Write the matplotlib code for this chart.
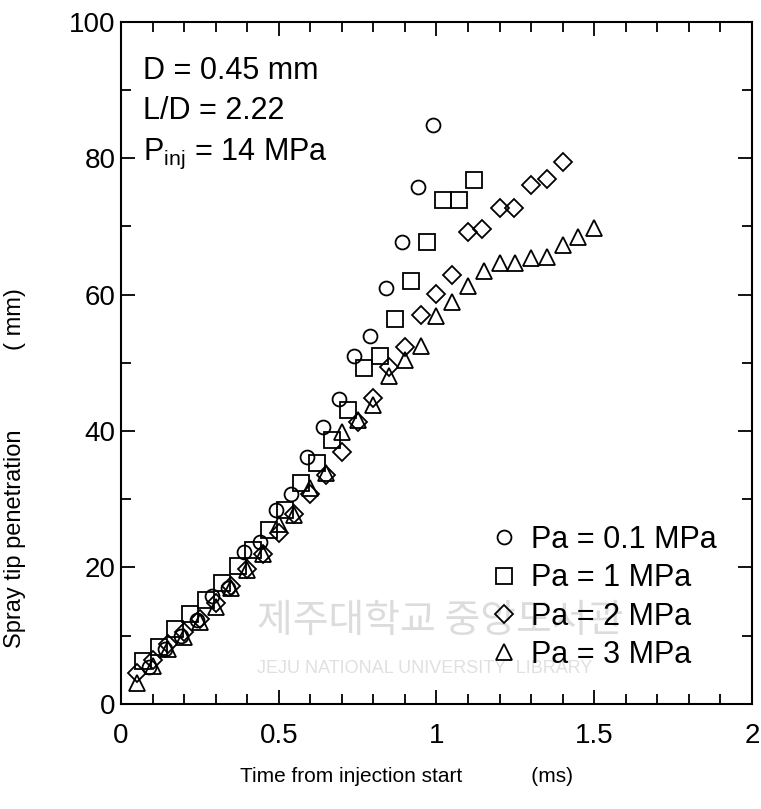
import matplotlib
matplotlib.use('Agg')
import matplotlib.pyplot as plt
from matplotlib.ticker import MultipleLocator

# Pa = 0.1 MPa
t_01 = [0.09, 0.14, 0.19, 0.24, 0.29, 0.34, 0.39, 0.44, 0.49, 0.54,
        0.59, 0.64, 0.69, 0.74, 0.79, 0.84, 0.89, 0.94, 0.99]
s_01 = [5.4, 8.0, 10.0, 12.3, 15.8, 17.0, 22.2, 23.8, 28.4, 30.7,
        36.2, 40.6, 44.7, 51.0, 54.0, 61.0, 67.7, 75.8, 84.9]

# Pa = 1 MPa
t_1 = [0.07, 0.12, 0.17, 0.22, 0.27, 0.32, 0.37, 0.42, 0.47, 0.52, 0.57,
       0.62, 0.67, 0.72, 0.77, 0.82, 0.87, 0.92, 0.97, 1.02, 1.07, 1.12]
s_1 = [6.3, 8.4, 10.9, 13.2, 15.2, 17.7, 20.2, 22.6, 25.5, 28.4, 32.4,
       35.3, 38.7, 43.1, 49.3, 51.0, 56.5, 62.0, 67.7, 73.9, 73.9, 76.8]

# Pa = 2 MPa
t_2 = [0.05, 0.10, 0.15, 0.20, 0.25, 0.30, 0.35, 0.40, 0.45, 0.50,
       0.55, 0.60, 0.65, 0.70, 0.75, 0.80, 0.85, 0.90, 0.95, 1.00,
       1.05, 1.10, 1.145, 1.20, 1.245, 1.30, 1.35, 1.40]
s_2 = [4.5, 6.5, 8.8, 10.5, 12.5, 14.8, 17.3, 19.8, 22.0, 25.0,
       27.8, 30.8, 33.5, 36.9, 41.3, 44.9, 49.4, 52.3, 57.0, 60.1,
       62.9, 69.2, 69.6, 72.7, 72.7, 76.1, 77.0, 79.5]

# Pa = 3 MPa
t_3 = [0.05, 0.10, 0.15, 0.20, 0.25, 0.30, 0.35, 0.40, 0.45, 0.50,
       0.55, 0.60, 0.65, 0.70, 0.75, 0.80, 0.85, 0.90, 0.95, 1.00,
       1.05, 1.10, 1.15, 1.20, 1.25, 1.30, 1.35, 1.40, 1.45, 1.50]
s_3 = [3.0, 5.5, 8.0, 9.8, 12.0, 14.2, 17.0, 19.6, 22.0, 26.3,
       27.7, 31.7, 33.9, 39.9, 41.6, 43.8, 48.1, 50.4, 52.5, 56.9,
       58.9, 61.3, 63.5, 64.7, 64.7, 65.4, 65.5, 67.3, 68.5, 69.8]

labels = ['Pa = 0.1 MPa', 'Pa = 1 MPa', 'Pa = 2 MPa', 'Pa = 3 MPa']
markers = ['o', 's', 'D', '^']

plt.rcParams['font.family'] = ['Liberation Sans', 'DejaVu Sans']

fig = plt.figure(figsize=(7.61, 8.09), dpi=100)
ax = fig.add_axes([0.159, 0.130, 0.829, 0.843])

series = [(t_01, s_01), (t_1, s_1), (t_2, s_2), (t_3, s_3)]
sizes = [10, 11, 9, 11]
for (t, s), m, lab, ms in zip(series, markers, labels, sizes):
    ax.plot(t, s, linestyle='none', marker=m, markersize=ms,
            markerfacecolor='none', markeredgecolor='black',
            markeredgewidth=1.3, label=lab)

ax.set_xlim(0, 2)
ax.set_ylim(0, 100)
ax.xaxis.set_major_locator(MultipleLocator(0.5))
ax.xaxis.set_minor_locator(MultipleLocator(0.1))
ax.yaxis.set_major_locator(MultipleLocator(20))
ax.yaxis.set_minor_locator(MultipleLocator(10))
ax.xaxis.set_major_formatter(plt.FuncFormatter(lambda v, p: '%g' % v))
ax.yaxis.set_major_formatter(plt.FuncFormatter(lambda v, p: '%g' % v))
ax.tick_params(which='both', direction='in', top=True, right=True, width=1.3)
ax.tick_params(which='major', length=10, labelsize=20)
ax.tick_params(which='minor', length=7)
ax.tick_params(axis='x', pad=14)
ax.tick_params(axis='y', pad=4)
for sp in ax.spines.values():
    sp.set_linewidth(1.5)

ax.set_xlabel('Time from injection start            (ms)', fontsize=15)
ax.xaxis.set_label_coords(0.452, -0.092)
ax.set_ylabel('Spray tip penetration            ( mm)', fontsize=17)
ax.yaxis.set_label_coords(-0.150, 0.346)

ax.text(0.035, 0.95, 'D = 0.45 mm\nL/D = 2.22\n$\\mathregular{P_{inj}}$ = 14 MPa',
        transform=ax.transAxes, fontsize=22, va='top', ha='left',
        linespacing=1.45)

# faint library watermark
ax.text(0.215, 0.105, '제주대학교 중앙도서관', transform=ax.transAxes,
        fontsize=28, color='#dcdcdc', family=['Noto Sans CJK KR'], zorder=0)
ax.text(0.215, 0.045, 'JEJU NATIONAL UNIVERSITY  LIBRARY', transform=ax.transAxes,
        fontsize=13, color='#e0e0e0', zorder=0)

ax.legend(loc='upper left', bbox_to_anchor=(0.578, 0.262), frameon=False,
          fontsize=22, handletextpad=0.3, labelspacing=0.27,
          borderaxespad=0, borderpad=0, handlelength=1.2)

fig.savefig('out.png', dpi=100)
